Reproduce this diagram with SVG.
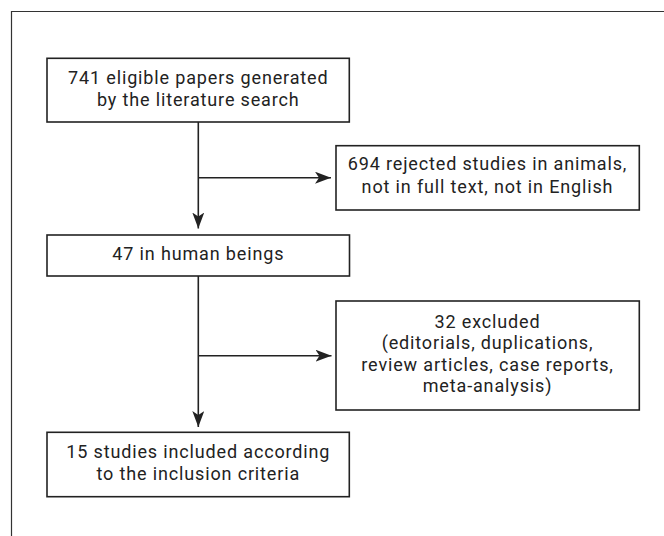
<svg xmlns="http://www.w3.org/2000/svg" width="664" height="536" viewBox="0 0 664 536">
<defs>
<marker id="ah" markerWidth="16" markerHeight="12" refX="16" refY="6" orient="auto" markerUnits="userSpaceOnUse">
<path d="M0,0 L16,6 L0,12 L4,6 Z" fill="#222"/>
</marker>
<style>
.box{fill:#fff;stroke:#222;stroke-width:1.6}
.t{font-family:Roboto,"Open Sans","Liberation Sans",sans-serif;font-size:18px;letter-spacing:0.85px;fill:#222;text-anchor:middle}
.c{fill:none;stroke:#222;stroke-width:1.6}
</style>
</defs>
<rect width="664" height="536" fill="#fff"/>
<path d="M11.5,536 V11.5 H664" fill="none" stroke="#333" stroke-width="1.2"/>
<g id="connectors">
<path class="c" d="M198.3,122 V228.5" marker-end="url(#ah)"/>
<path class="c" d="M198.3,177.7 H331" marker-end="url(#ah)"/>
<path class="c" d="M198.3,276 V427" marker-end="url(#ah)"/>
<path class="c" d="M198.3,355.7 H331.5" marker-end="url(#ah)"/>
</g>
<g id="n1">
<rect class="box" x="47" y="58.3" width="302.3" height="63.7"/>
<text class="t" x="198.3" y="84.3">741 eligible papers generated</text>
<text class="t" x="198.3" y="106">by the literature search</text>
</g>
<g id="n2">
<rect class="box" x="336" y="145.7" width="303.3" height="64.3"/>
<text class="t" x="487.5" y="170">694 rejected studies in animals,</text>
<text class="t" x="487.5" y="193.3">not in full text, not in English</text>
</g>
<g id="n3">
<rect class="box" x="47" y="235" width="302.5" height="41"/>
<text class="t" x="198.3" y="260">47 in human beings</text>
</g>
<g id="n4">
<rect class="box" x="336" y="301" width="303.3" height="109"/>
<text class="t" x="487.5" y="327.7">32 excluded</text>
<text class="t" x="487.5" y="349.2">(editorials, duplications,</text>
<text class="t" x="487.5" y="370.7">review articles, case reports,</text>
<text class="t" x="487.5" y="392.2">meta-analysis)</text>
</g>
<g id="n5">
<rect class="box" x="47" y="432.3" width="302.3" height="64.4"/>
<text class="t" x="198.3" y="458.3">15 studies included according</text>
<text class="t" x="198.3" y="480">to the inclusion criteria</text>
</g>
</svg>
